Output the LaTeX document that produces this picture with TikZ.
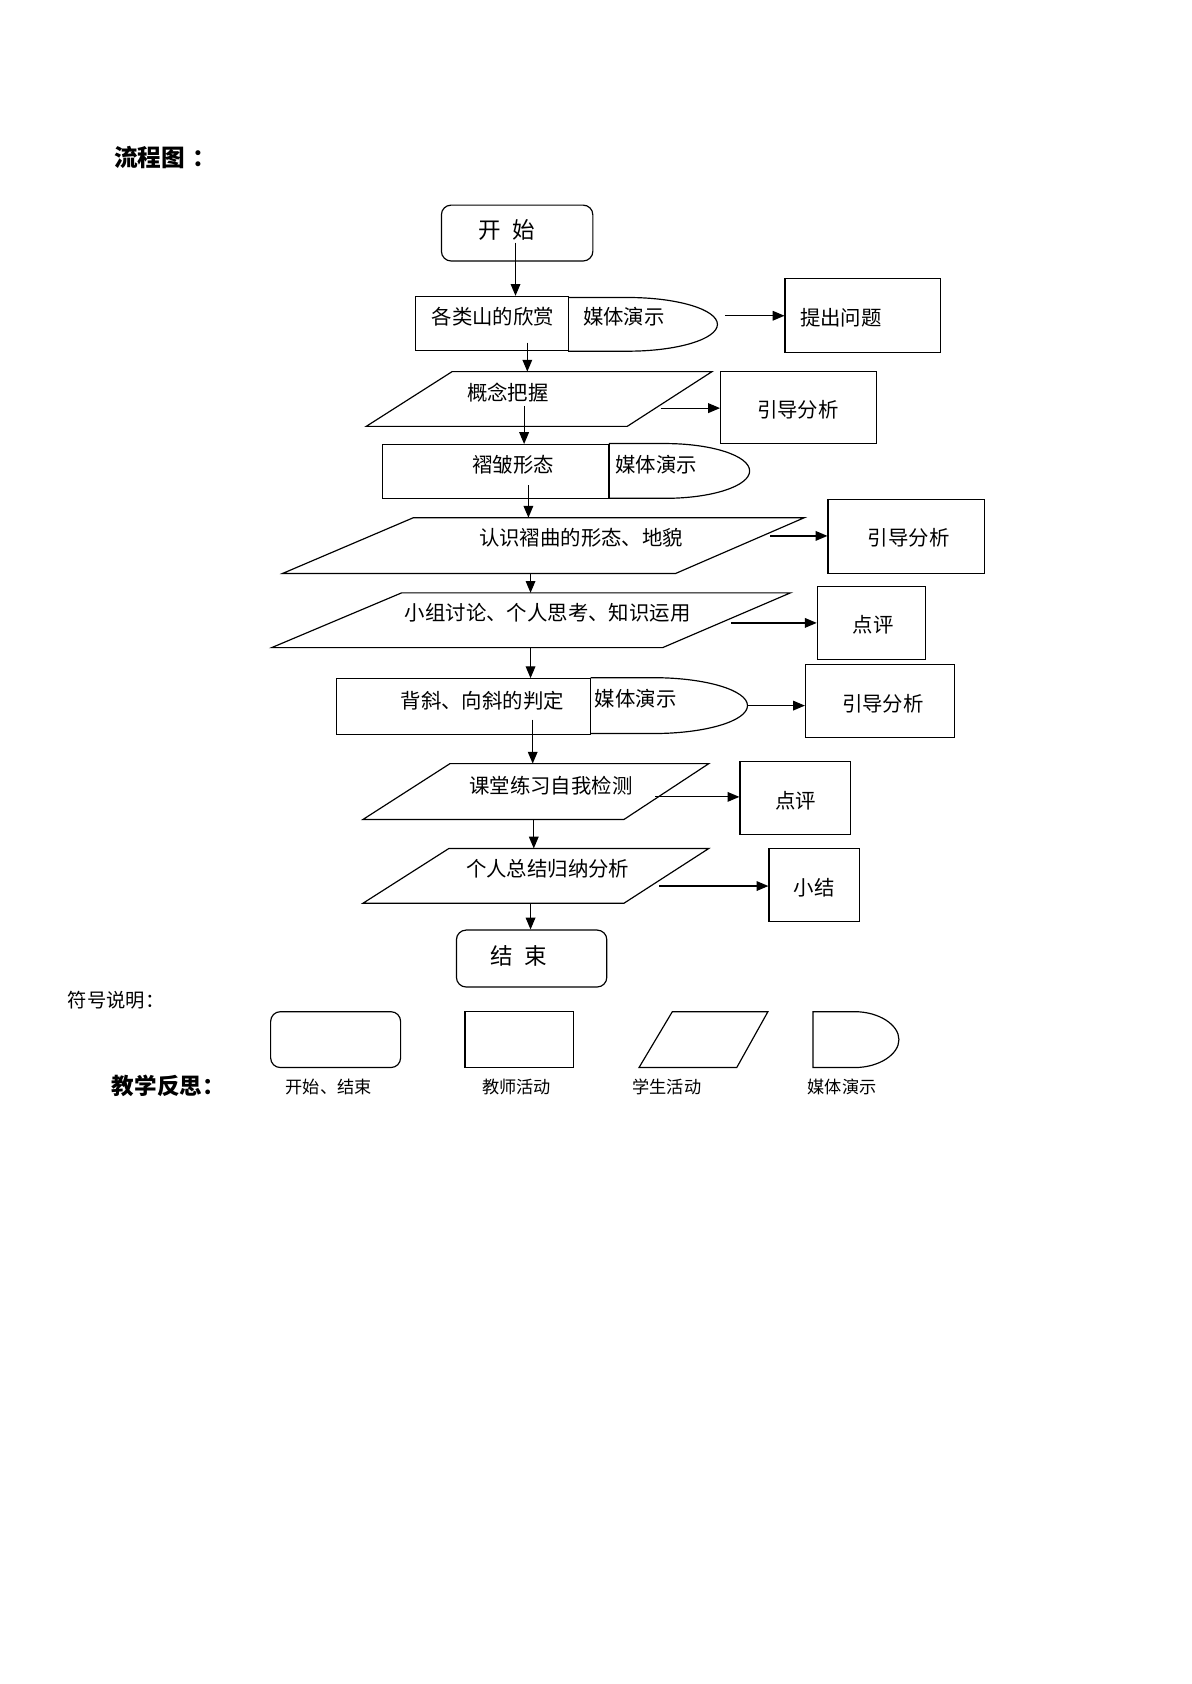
\documentclass[tikz,border=0pt]{standalone}
\usepackage{fontspec}
\setmainfont{Noto Sans CJK SC}
\usetikzlibrary{arrows.meta,calc}
\newcommand\mymedia[5]{% name, left, right, top, bottom
  \pgfmathsetmacro\mrx{0.6*(#3-#2)}
  \pgfmathsetmacro\mf{#3-\mrx}
  \pgfmathsetmacro\mry{(#5-#4)/2}
  \pgfmathsetmacro\mm{(#4+#5)/2}
  \draw[shp,fill=white] (#2,#4) -- (\mf,#4) .. controls ({\mf+0.5523*\mrx},#4) and (#3,{\mm-0.5523*\mry}) .. (#3,\mm) coordinate (#1) .. controls (#3,{\mm+0.5523*\mry}) and ({\mf+0.5523*\mrx},#5) .. (\mf,#5) -- (#2,#5);
}
\begin{document}
\begin{tikzpicture}[x=1pt,y=-1pt,
  shp/.style={draw=black,line width=1.1pt},
  box/.style={shp,rectangle,inner sep=0pt,fill=white},
  rbox/.style={box,rounded corners=9pt},
  arr/.style={line width=1.1pt,-{Triangle[length=11pt,width=9pt]}},
  txt/.style={inner sep=0pt,font=\fontsize{19}{19}\selectfont},
  big/.style={inner sep=0pt,font=\fontsize{21}{21}\selectfont},
  small/.style={inner sep=0pt,font=\fontsize{16}{16}\selectfont}]
\fill[white] (0,0) rectangle (1109,1568);
\useasboundingbox (0,0) rectangle (1109,1568);

% title
\node[inner sep=0pt,anchor=west,font=\fontsize{22}{22}\selectfont\bfseries] (title) at (106,147) {流程图\hspace{0.3em}：};

% start
\node[rbox,minimum width=141pt,minimum height=52pt] (start) at (481.5,217) {};
\node[big] (tstart) at (472,214) {开\hspace{0.5em}始};

% row 1
\mymedia{m1}{529}{668}{277}{327}
\node[box,minimum width=142pt,minimum height=50pt] (r1) at (458,301) {};
\node[txt] (tr1) at (459,295) {各类山的欣赏};
\node[txt] (tm1) at (581,295) {媒体演示};
\node[box,minimum width=145pt,minimum height=69pt] (q1) at (803.5,293.5) {};
\node[txt] (tq1) at (783,296) {提出问题};

% p1
\coordinate (p1tl) at (421,346); \coordinate (p1tr) at (663,346);
\coordinate (p1br) at (584,397); \coordinate (p1bl) at (341,397);
\draw[shp] (p1tl) -- (p1tr) -- (p1br) -- (p1bl) -- cycle;
\node[txt] (tp1) at (473,366) {概念把握};
\node[box,minimum width=145pt,minimum height=67pt] (g1) at (743.5,379.5) {};
\node[txt] (tg1) at (743,382) {引导分析};

% row 2
\mymedia{m2}{567}{698}{413}{464}
\node[box,minimum width=211pt,minimum height=50pt] (r2) at (461.5,439) {};
\node[txt] (tr2) at (478,433) {褶皱形态};
\node[txt] (tm2) at (611,433) {媒体演示};

% p2
\coordinate (p2tl) at (385,482); \coordinate (p2tr) at (749,482);
\coordinate (p2br) at (629,534); \coordinate (p2bl) at (263,534);
\draw[shp] (p2tl) -- (p2tr) -- (p2br) -- (p2bl) -- cycle;
\node[txt] (tp2) at (541,501) {认识褶曲的形态、地貌};
\node[box,minimum width=146pt,minimum height=69pt] (g2) at (844,499.5) {};
\node[txt] (tg2) at (846,501) {引导分析};

% p3
\coordinate (p3tl) at (374,552); \coordinate (p3tr) at (736,552);
\coordinate (p3br) at (617,603); \coordinate (p3bl) at (253,603);
\draw[shp] (p3tl) -- (p3tr) -- (p3br) -- (p3bl) -- cycle;
\node[txt] (tp3) at (510,571) {小组讨论、个人思考、知识运用};
\node[box,minimum width=101pt,minimum height=68pt] (d1) at (811.5,580) {};
\node[txt] (td1) at (813,582) {点评};

% row 3
\mymedia{m3}{550}{696}{631}{683}
\node[box,minimum width=237pt,minimum height=52pt] (r3) at (431.5,658) {};
\node[txt] (tr3) at (449,652) {背斜、向斜的判定};
\node[txt] (tm3) at (592,651) {媒体演示};
\node[box,minimum width=139pt,minimum height=68pt] (g3) at (819.5,653) {};
\node[txt] (tg3) at (822,655) {引导分析};

% p4
\coordinate (p4tl) at (419,711); \coordinate (p4tr) at (660,711);
\coordinate (p4br) at (581,763); \coordinate (p4bl) at (338,763);
\draw[shp] (p4tl) -- (p4tr) -- (p4br) -- (p4bl) -- cycle;
\node[txt] (tp4) at (513,732) {课堂练习自我检测};
\node[box,minimum width=103pt,minimum height=68pt] (d2) at (740.5,743) {};
\node[txt] (td2) at (741,746) {点评};

% p5
\coordinate (p5tl) at (418,790); \coordinate (p5tr) at (660,790);
\coordinate (p5br) at (581,841); \coordinate (p5bl) at (338,841);
\draw[shp] (p5tl) -- (p5tr) -- (p5br) -- (p5bl) -- cycle;
\node[txt] (tp5) at (510,809) {个人总结归纳分析};
\node[box,minimum width=84pt,minimum height=68pt] (x1) at (758,824) {};
\node[txt] (tx1) at (758,827) {小结};

% end
\node[rbox,minimum width=140pt,minimum height=53pt] (end) at (495,892.5) {};
\node[big] (tend) at (483,890) {结\hspace{0.5em}束};

% arrows
\coordinate (a0) at (480,226);
\draw[arr] (a0) -- (a0 |- r1.north);
\coordinate (a1) at (675,294);
\draw[arr] (a1) -- (q1.west |- a1);
\coordinate (a2) at (491,319);
\draw[arr] (a2) -- (a2 |- p1tl);
\coordinate (a3) at (615,380);
\draw[arr] (a3) -- (g1.west |- a3);
\coordinate (a4) at (488,378);
\draw[arr] (a4) -- (a4 |- r2.north);
\coordinate (a5) at (492,452);
\draw[arr] (a5) -- (a5 |- p2tl);
\coordinate (a6) at (717,499);
\draw[arr] (a6) -- (g2.west |- a6);
\coordinate (a7) at (494,534);
\draw[arr] (a7) -- (a7 |- p3tl);
\coordinate (a8) at (681,580);
\draw[arr] (a8) -- (d1.west |- a8);
\coordinate (a9) at (494,603);
\draw[arr] (a9) -- (a9 |- r3.north);
\coordinate (a10) at (m3);
\draw[arr] (a10) -- (g3.west |- a10);
\coordinate (a11) at (496,670);
\draw[arr] (a11) -- (a11 |- p4tl);
\coordinate (a12) at (610,742);
\draw[arr] (a12) -- (d2.west |- a12);
\coordinate (a13) at (497,763);
\draw[arr] (a13) -- (a13 |- p5tl);
\coordinate (a14) at (614,825);
\draw[arr] (a14) -- (x1.west |- a14);
\coordinate (a15) at (494,841);
\draw[arr] (a15) -- (a15 |- end.north);

% legend
\node[inner sep=0pt,anchor=west,font=\fontsize{18}{18}\selectfont] (legt) at (63,931) {符号说明：};
\node[rbox,minimum width=121pt,minimum height=52pt] (l1) at (312.5,968) {};
\node[box,minimum width=101pt,minimum height=52pt] (l2) at (483.5,968) {};
\draw[shp] (626,942) -- (715,942) -- (686,994) -- (595,994) -- cycle;
\draw[shp] (796,942) -- (757,942) -- (757,994) -- (796,994)
  .. controls (818,994) and (837,982) .. (837,968)
  .. controls (837,954) and (818,942) .. (796,942);
\node[inner sep=0pt,anchor=west,font=\fontsize{21}{21}\selectfont\bfseries] (refl) at (104,1011) {教学反思：};
\node[small] (ll1) at (306,1012) {开始、结束};
\node[small] (ll2) at (481,1012) {教师活动};
\node[small] (ll3) at (621,1012) {学生活动};
\node[small] (ll4) at (784,1012) {媒体演示};
\end{tikzpicture}
\end{document}
